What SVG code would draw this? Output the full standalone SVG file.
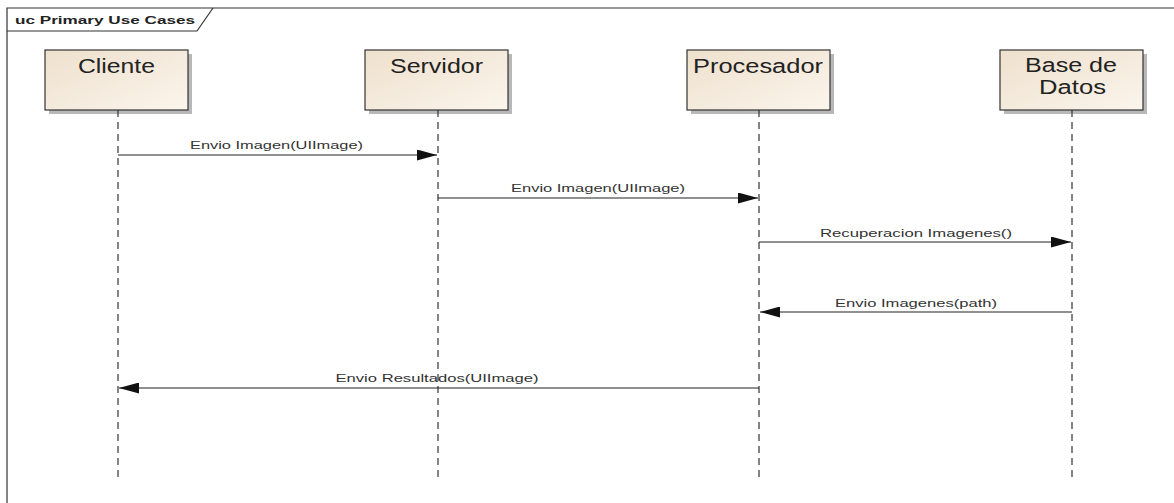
<svg xmlns="http://www.w3.org/2000/svg" width="1174" height="503" viewBox="0 0 1174 503">
  <style>
    .frame { fill: none; stroke: #333; stroke-width: 1.2; }
    .title { font-family: "Liberation Sans", Arial, sans-serif; font-size: 11px; font-weight: bold; fill: #222; }
    .box { fill: url(#boxFill); stroke: #333; stroke-width: 1.2; }
    .shadow { fill: #b8b8b8; }
    .name { font-family: "Liberation Sans", Arial, sans-serif; font-size: 20px; fill: #222; text-anchor: middle; }
    .life { stroke: #333; stroke-width: 1.2; stroke-dasharray: 7 5; }
    .msg { stroke: #222; stroke-width: 1.2; fill: none; }
    .lbl { font-family: "Liberation Sans", Arial, sans-serif; font-size: 11px; fill: #333; text-anchor: middle; }
  </style>
  <defs>
    <linearGradient id="boxFill" x1="0" y1="0" x2="1" y2="1">
      <stop offset="0" stop-color="#eee0cd"/>
      <stop offset="1" stop-color="#fbf5ec"/>
    </linearGradient>
    <marker id="head" viewBox="0 0 20 11" refX="20" refY="5.5" markerWidth="20" markerHeight="11" markerUnits="userSpaceOnUse" orient="auto">
      <path d="M0,0 L20,5.5 L0,11 Z" fill="#111"/>
    </marker>
  </defs>

  <rect width="1174" height="503" fill="#fff"/>

  <!-- diagram frame with name tab -->
  <g id="frame">
    <path class="frame" d="M7,503 L7,8 L1174,8"/>
    <path class="frame" d="M7,31 L197,31 L213,8"/>
    <text class="title" x="15" y="24" textLength="180" lengthAdjust="spacingAndGlyphs">uc Primary Use Cases</text>
  </g>

  <!-- lifelines -->
  <g id="cliente">
    <rect class="shadow" x="49" y="54" width="143" height="60"/>
    <rect class="box" x="45" y="50" width="143" height="60"/>
    <text class="name" x="116.5" y="73" textLength="77" lengthAdjust="spacingAndGlyphs">Cliente</text>
    <line class="life" x1="118" y1="110" x2="118" y2="482"/>
  </g>
  <g id="servidor">
    <rect class="shadow" x="369" y="54" width="143" height="60"/>
    <rect class="box" x="365" y="50" width="143" height="60"/>
    <text class="name" x="436.5" y="73" textLength="93" lengthAdjust="spacingAndGlyphs">Servidor</text>
    <line class="life" x1="438" y1="110" x2="438" y2="482"/>
  </g>
  <g id="procesador">
    <rect class="shadow" x="691" y="54" width="143" height="60"/>
    <rect class="box" x="687" y="50" width="143" height="60"/>
    <text class="name" x="758" y="73" textLength="130" lengthAdjust="spacingAndGlyphs">Procesador</text>
    <line class="life" x1="759" y1="110" x2="759" y2="482"/>
  </g>
  <g id="base-de-datos">
    <rect class="shadow" x="1004" y="54" width="143" height="60"/>
    <rect class="box" x="1000" y="50" width="143" height="60"/>
    <text class="name" x="1071" y="72" textLength="92" lengthAdjust="spacingAndGlyphs">Base de</text>
    <text class="name" x="1072.5" y="94" textLength="67" lengthAdjust="spacingAndGlyphs">Datos</text>
    <line class="life" x1="1072" y1="110" x2="1072" y2="482"/>
  </g>

  <!-- messages -->
  <g id="messages">
    <line class="msg" x1="118" y1="155" x2="437" y2="155" marker-end="url(#head)"/>
    <text class="lbl" x="276.5" y="149" textLength="173" lengthAdjust="spacingAndGlyphs">Envio Imagen(UIImage)</text>

    <line class="msg" x1="438" y1="198" x2="758" y2="198" marker-end="url(#head)"/>
    <text class="lbl" x="598" y="192" textLength="174" lengthAdjust="spacingAndGlyphs">Envio Imagen(UIImage)</text>

    <line class="msg" x1="759" y1="242" x2="1071" y2="242" marker-end="url(#head)"/>
    <text class="lbl" x="916" y="237" textLength="192" lengthAdjust="spacingAndGlyphs">Recuperacion Imagenes()</text>

    <line class="msg" x1="1072" y1="312" x2="760" y2="312" marker-end="url(#head)"/>
    <text class="lbl" x="916" y="307" textLength="162" lengthAdjust="spacingAndGlyphs">Envio Imagenes(path)</text>

    <line class="msg" x1="759" y1="388" x2="119" y2="388" marker-end="url(#head)"/>
    <text class="lbl" x="437" y="382" textLength="203" lengthAdjust="spacingAndGlyphs">Envio Resultados(UIImage)</text>
  </g>
</svg>
